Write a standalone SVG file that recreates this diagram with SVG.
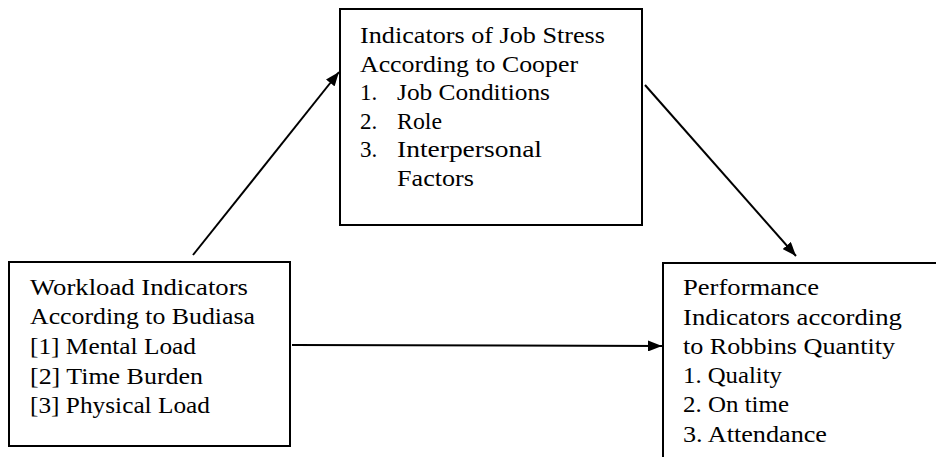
<svg xmlns="http://www.w3.org/2000/svg" width="936" height="457" viewBox="0 0 936 457">
  <style>
    .box { fill: #ffffff; stroke: #000000; stroke-width: 2; }
    .lbl { font-family: "Liberation Serif", "DejaVu Serif", serif; font-size: 23px; fill: #000000; }
    .wire { stroke: #000000; stroke-width: 2; fill: none; }
  </style>
  <defs>
    <marker id="arrow" viewBox="0 0 14 11" refX="14" refY="5.5" markerWidth="14" markerHeight="11" markerUnits="userSpaceOnUse" orient="auto">
      <path d="M0,0 L14,5.5 L0,11 Z" fill="#000000"/>
    </marker>
  </defs>
  <rect width="936" height="457" fill="#ffffff"/>

  <g id="connectors">
    <line class="wire" x1="193" y1="255" x2="339" y2="72" marker-end="url(#arrow)"/>
    <line class="wire" x1="645" y1="85" x2="796" y2="256" marker-end="url(#arrow)"/>
    <line class="wire" x1="292" y1="345" x2="662" y2="346" marker-end="url(#arrow)"/>
  </g>

  <g id="job-stress">
    <rect class="box" x="340" y="9" width="302" height="216"/>
    <text class="lbl" x="360" y="43" textLength="245" lengthAdjust="spacingAndGlyphs">Indicators of Job Stress</text>
    <text class="lbl" x="360" y="72" textLength="218" lengthAdjust="spacingAndGlyphs">According to Cooper</text>
    <text class="lbl" x="360" y="100">1.</text>
    <text class="lbl" x="397" y="100" textLength="153" lengthAdjust="spacingAndGlyphs">Job Conditions</text>
    <text class="lbl" x="360" y="129">2.</text>
    <text class="lbl" x="397" y="129" textLength="45" lengthAdjust="spacingAndGlyphs">Role</text>
    <text class="lbl" x="360" y="157">3.</text>
    <text class="lbl" x="397" y="157" textLength="145" lengthAdjust="spacingAndGlyphs">Interpersonal</text>
    <text class="lbl" x="397" y="186" textLength="77" lengthAdjust="spacingAndGlyphs">Factors</text>
  </g>

  <g id="workload">
    <rect class="box" x="9" y="262" width="281" height="184"/>
    <text class="lbl" x="30" y="295" textLength="218" lengthAdjust="spacingAndGlyphs">Workload Indicators</text>
    <text class="lbl" x="30" y="324" textLength="225" lengthAdjust="spacingAndGlyphs">According to Budiasa</text>
    <text class="lbl" x="30" y="354" textLength="166" lengthAdjust="spacingAndGlyphs">[1] Mental Load</text>
    <text class="lbl" x="30" y="384" textLength="173" lengthAdjust="spacingAndGlyphs">[2] Time Burden</text>
    <text class="lbl" x="30" y="413" textLength="180" lengthAdjust="spacingAndGlyphs">[3] Physical Load</text>
  </g>

  <g id="performance">
    <path class="box" d="M937,263 L663,263 L663,458"/>
    <text class="lbl" x="683" y="295" textLength="136" lengthAdjust="spacingAndGlyphs">Performance</text>
    <text class="lbl" x="683" y="325" textLength="219" lengthAdjust="spacingAndGlyphs">Indicators according</text>
    <text class="lbl" x="683" y="354" textLength="212" lengthAdjust="spacingAndGlyphs">to Robbins Quantity</text>
    <text class="lbl" x="683" y="383" textLength="99" lengthAdjust="spacingAndGlyphs">1. Quality</text>
    <text class="lbl" x="683" y="412" textLength="106" lengthAdjust="spacingAndGlyphs">2. On time</text>
    <text class="lbl" x="683" y="442" textLength="144" lengthAdjust="spacingAndGlyphs">3. Attendance</text>
  </g>
</svg>
